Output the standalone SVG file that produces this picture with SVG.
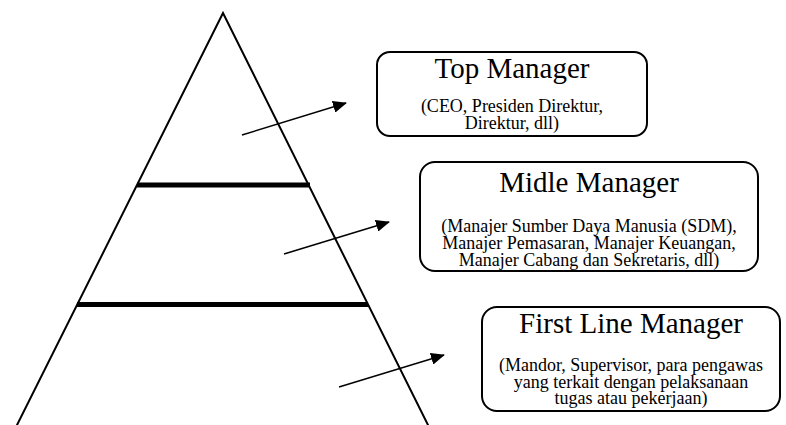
<svg xmlns="http://www.w3.org/2000/svg" width="786" height="425" viewBox="0 0 786 425">
<defs>
<marker id="ah" markerWidth="14" markerHeight="12" refX="13" refY="6" orient="auto" markerUnits="userSpaceOnUse" viewBox="0 0 14 12">
<path d="M0,0 L14,6 L0,12 z" fill="#000"/>
</marker>
<style>
.box{fill:#fff;stroke:#000;stroke-width:2}
.div{stroke:#000;stroke-width:5}
.arr{stroke:#000;stroke-width:1.5;fill:none;marker-end:url(#ah)}
</style>
</defs>
<rect width="786" height="425" fill="#fff"/>
<g id="pyramid">
<polyline points="16,427 223,13 429,427" fill="none" stroke="#000" stroke-width="2"/>
<line class="div" x1="137" y1="185" x2="310" y2="185"/>
<line class="div" x1="77" y1="304.5" x2="368" y2="304.5"/>
</g>
<g id="connectors">
<line class="arr" x1="242" y1="135" x2="346" y2="103"/>
<line class="arr" x1="284" y1="254" x2="389" y2="222"/>
<line class="arr" x1="339" y1="387" x2="444" y2="355"/>
</g>
<g font-family="Liberation Serif, Times New Roman, serif" text-anchor="middle" fill="#000">
<g id="top-manager">
<rect class="box" x="377" y="52" width="270" height="84" rx="13"/>
<text x="512" y="78" font-size="29">Top Manager</text>
<text x="512" y="112" font-size="18">(CEO, Presiden Direktur,</text>
<text x="512" y="129" font-size="18">Direktur, dll)</text>
</g>
<g id="midle-manager">
<rect class="box" x="420" y="162" width="338" height="109" rx="15"/>
<text x="589" y="192" font-size="29">Midle Manager</text>
<text x="589" y="232" font-size="18">(Manajer Sumber Daya Manusia (SDM),</text>
<text x="589" y="249" font-size="18">Manajer Pemasaran, Manajer Keuangan,</text>
<text x="589" y="266" font-size="18">Manajer Cabang dan Sekretaris, dll)</text>
</g>
<g id="first-line-manager">
<rect class="box" x="482" y="307" width="298" height="104" rx="15"/>
<text x="631" y="333" font-size="29">First Line Manager</text>
<text x="631" y="371" font-size="18">(Mandor, Supervisor, para pengawas</text>
<text x="631" y="388" font-size="18">yang terkait dengan pelaksanaan</text>
<text x="631" y="404" font-size="18">tugas atau pekerjaan)</text>
</g>
</g>
</svg>
